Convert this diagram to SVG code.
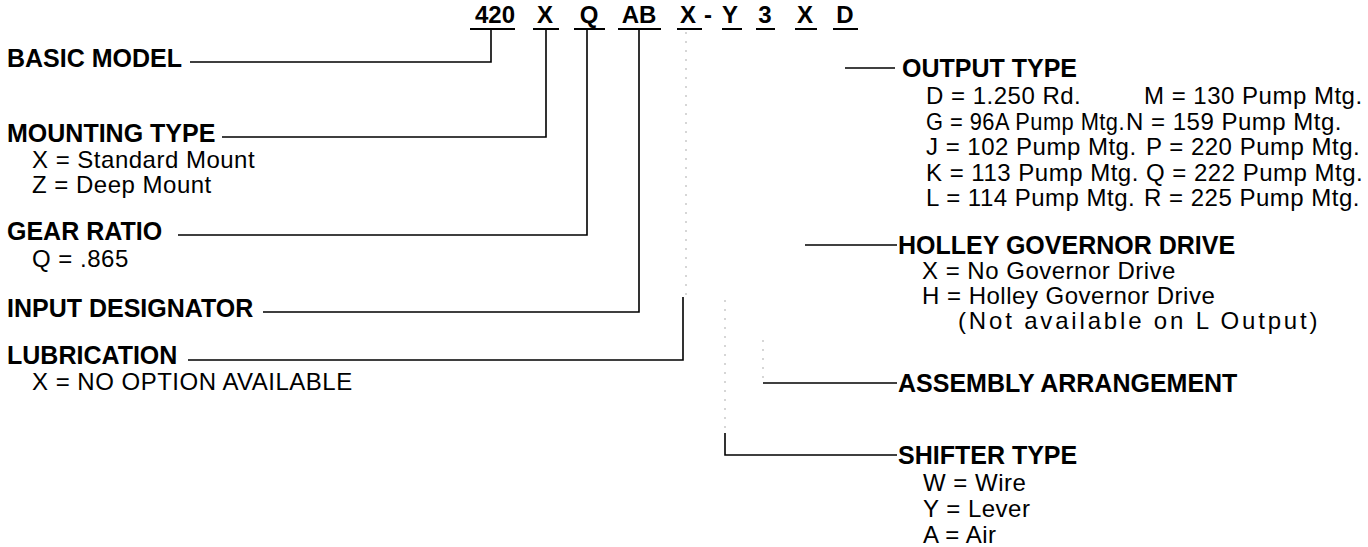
<svg xmlns="http://www.w3.org/2000/svg" width="1368" height="547" viewBox="0 0 1368 547">
<style>
.h{font-family:"Liberation Sans",Arial,sans-serif;font-weight:bold;font-size:25px;fill:#000}
.c{font-family:"Liberation Sans",Arial,sans-serif;font-weight:bold;font-size:24px;fill:#000;text-anchor:middle}
.t{font-family:"Liberation Sans",Arial,sans-serif;font-size:24px;letter-spacing:0.5px;fill:#000}
.ln{stroke:#000;stroke-width:1.6;fill:none}
.ul{stroke:#000;stroke-width:2;fill:none}
.fa{stroke:#bbb;stroke-width:1.2;stroke-dasharray:2 7;fill:none}
</style>
<rect width="1368" height="547" fill="#fff"/>
<g id="code">
<text class="c" x="495" y="23">420</text>
<text class="c" x="545" y="23">X</text>
<text class="c" x="589" y="23">Q</text>
<text class="c" x="639" y="23">AB</text>
<text class="c" x="688" y="23">X</text>
<text class="c" x="708" y="23">-</text>
<text class="c" x="730" y="23">Y</text>
<text class="c" x="765" y="23">3</text>
<text class="c" x="805" y="23">X</text>
<text class="c" x="845" y="23">D</text>
<path class="ul" d="M470 29H515M533 29H559M574 29H605M618 29H661M677 29H702M722 29H742M756 29H775M795 29H817M833 29H858"/>
</g>
<g id="connectors">
<path class="ln" d="M491 29V62H190"/>
<path class="ln" d="M546 29V137H222"/>
<path class="ln" d="M587 29V235H178"/>
<path class="ln" d="M639 29V312H263"/>
<path class="ln" d="M683 297V360H188"/>
<path class="fa" d="M686 32V297"/>
<path class="ln" d="M845 68H895"/>
<path class="ln" d="M805 245H897"/>
<path class="ln" d="M763 383H897"/>
<path class="fa" d="M763 340V383"/>
<path class="ln" d="M725 433V455H897"/>
<path class="fa" d="M725 300V433"/>
</g>
<g id="basic-model"><text class="h" x="7" y="67">BASIC MODEL</text></g>
<g id="mounting-type">
<text class="h" x="7" y="142">MOUNTING TYPE</text>
<text class="t" x="32" y="168">X = Standard Mount</text>
<text class="t" x="32" y="193">Z = Deep Mount</text>
</g>
<g id="gear-ratio">
<text class="h" x="7" y="240">GEAR RATIO</text>
<text class="t" x="32" y="267">Q = .865</text>
</g>
<g id="input-designator"><text class="h" x="7" y="317">INPUT DESIGNATOR</text></g>
<g id="lubrication">
<text class="h" x="7" y="364">LUBRICATION</text>
<text class="t" x="32" y="390">X = NO OPTION AVAILABLE</text>
</g>
<g id="output-type">
<text class="h" x="902" y="77">OUTPUT TYPE</text>
<text class="t" x="926" y="104">D = 1.250 Rd.</text>
<text class="t" x="926" y="129.5" textLength="199" lengthAdjust="spacingAndGlyphs">G = 96A Pump Mtg.</text>
<text class="t" x="926" y="155">J = 102 Pump Mtg.</text>
<text class="t" x="926" y="180.5">K = 113 Pump Mtg.</text>
<text class="t" x="926" y="206">L = 114 Pump Mtg.</text>
<text class="t" x="1144" y="104">M = 130 Pump Mtg.</text>
<text class="t" x="1126" y="129.5">N = 159 Pump Mtg.</text>
<text class="t" x="1146" y="155">P = 220 Pump Mtg.</text>
<text class="t" x="1146" y="180.5">Q = 222 Pump Mtg.</text>
<text class="t" x="1144" y="206">R = 225 Pump Mtg.</text>
</g>
<g id="holley-governor-drive">
<text class="h" x="898" y="254">HOLLEY GOVERNOR DRIVE</text>
<text class="t" x="922" y="279">X = No Governor Drive</text>
<text class="t" x="922" y="304">H = Holley Governor Drive</text>
<text class="t" x="958" y="329" textLength="360" lengthAdjust="spacing">(Not available on L Output)</text>
</g>
<g id="assembly-arrangement"><text class="h" x="898" y="392">ASSEMBLY ARRANGEMENT</text></g>
<g id="shifter-type">
<text class="h" x="898" y="464">SHIFTER TYPE</text>
<text class="t" x="923" y="491">W = Wire</text>
<text class="t" x="923" y="517">Y = Lever</text>
<text class="t" x="923" y="543">A = Air</text>
</g>
</svg>
